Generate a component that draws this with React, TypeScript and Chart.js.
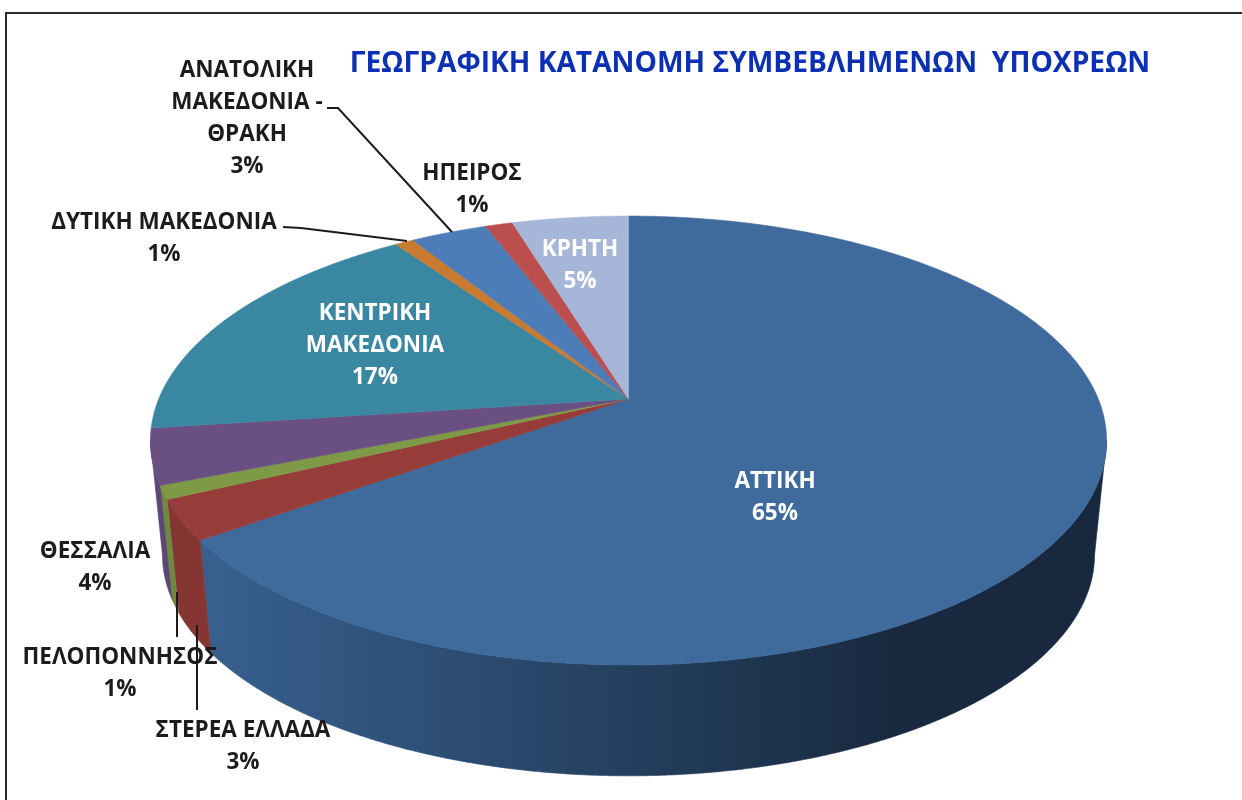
import React, { useEffect, useRef } from "react";
import { Chart, registerables } from "chart.js";

Chart.register(...registerables);

const titleText = "ΓΕΩΓΡΑΦΙΚΗ ΚΑΤΑΝΟΜΗ ΣΥΜΒΕΒΛΗΜΕΝΩΝ  ΥΠΟΧΡΕΩΝ";
const categories = [
  "ΑΤΤΙΚΗ",
  "ΣΤΕΡΕΑ ΕΛΛΑΔΑ",
  "ΠΕΛΟΠΟΝΝΗΣΟΣ",
  "ΘΕΣΣΑΛΙΑ",
  "ΚΕΝΤΡΙΚΗ ΜΑΚΕΔΟΝΙΑ",
  "ΔΥΤΙΚΗ ΜΑΚΕΔΟΝΙΑ",
  "ΑΝΑΤΟΛΙΚΗ ΜΑΚΕΔΟΝΙΑ - ΘΡΑΚΗ",
  "ΗΠΕΙΡΟΣ",
  "ΚΡΗΤΗ",
];
const shares = [65.1, 2.86, 0.95, 3.97, 17.43, 0.75, 3.1, 1.1, 4.7];
const topColors = ["#3e6a9c", "#963d3a", "#7e9a47", "#6a5082", "#3a87a1", "#c87a30", "#4c7db8", "#bb4f4d", "#a6b6d8"];
const wallColors = ["#2c4b70", "#853633", "#6f8a3e", "#5c4675", "#2f6f85", "#a8652a", "#3f689a", "#9c4240", "#8a98b4"];
const labelLines = [
  ["ΑΤΤΙΚΗ"],
  ["ΣΤΕΡΕΑ ΕΛΛΑΔΑ"],
  ["ΠΕΛΟΠΟΝΝΗΣΟΣ"],
  ["ΘΕΣΣΑΛΙΑ"],
  ["ΚΕΝΤΡΙΚΗ", "ΜΑΚΕΔΟΝΙΑ"],
  ["ΔΥΤΙΚΗ ΜΑΚΕΔΟΝΙΑ"],
  ["ΑΝΑΤΟΛΙΚΗ", "ΜΑΚΕΔΟΝΙΑ -", "ΘΡΑΚΗ"],
  ["ΗΠΕΙΡΟΣ"],
  ["ΚΡΗΤΗ"],
];
const labelAnchors = [
  [775, 481.5],
  [243, 730.5],
  [120, 657.5],
  [95, 551.5],
  [375, 313.5],
  [164, 222.5],
  [247, 70.5],
  [472, 173.5],
  [580, 249.5],
];
const labelColors = ["#ffffff", "#1c1c1c", "#1c1c1c", "#1c1c1c", "#ffffff", "#1c1c1c", "#1c1c1c", "#1c1c1c", "#ffffff"];
const leaderLines = [
  [[177, 592], [177, 637]],
  [[197, 625], [197, 710]],
  [[283, 227], [301, 228], [407, 241]],
  [[327, 108], [338, 108], [452, 232]],
];

const CX = 628.5;
const K = -0.185;
const TOP = { a: 469.8, b: 216.8, y0: 399 };
const BOTTOM = { a: 458, b: 213.4, y0: 514 };
const FRONT_START = Math.acos(K);
const FRONT_END = Math.PI * 2 - FRONT_START;
const LINE_HEIGHT = 32;
const FONT = '700 22.5px "Open Sans", sans-serif';

function project(theta: number, f: { a: number; b: number; y0: number }) {
  const u = Math.sin(theta);
  const v = -Math.cos(theta);
  const w = 1 + K * v;
  return [CX + (f.a * u) / w, f.y0 + (f.b * v) / w];
}

function rim(from: number, to: number, f: { a: number; b: number; y0: number }) {
  const steps = Math.max(2, Math.ceil(Math.abs(to - from) / 0.004));
  const pts: number[][] = [];
  for (let i = 0; i <= steps; i++) pts.push(project(from + ((to - from) * i) / steps, f));
  return pts;
}

function fillPoly(ctx: CanvasRenderingContext2D, pts: number[][], color: any) {
  ctx.beginPath();
  pts.forEach((p, i) => (i ? ctx.lineTo(p[0], p[1]) : ctx.moveTo(p[0], p[1])));
  ctx.closePath();
  ctx.fillStyle = color;
  ctx.strokeStyle = color;
  ctx.lineWidth = 0.6;
  ctx.fill();
  ctx.stroke();
}

const pie3d = {
  id: "pie3d",
  beforeDatasetDraw(chart: any) {
    const ctx: CanvasRenderingContext2D = chart.ctx;
    const arcs = chart.getDatasetMeta(0).data;
    const angles = arcs.map((a: any) => [a.startAngle + Math.PI / 2, a.endAngle + Math.PI / 2]);

    ctx.save();
    // Frame
    ctx.strokeStyle = "#2a2a2a";
    ctx.lineWidth = 2;
    ctx.beginPath();
    ctx.moveTo(6, 800);
    ctx.lineTo(6, 13);
    ctx.lineTo(1242, 13);
    ctx.stroke();

    // Outer walls
    angles.forEach(([s, e]: number[], i: number) => {
      const from = Math.max(s, FRONT_START);
      const to = Math.min(e, FRONT_END);
      if (to <= from) return;
      const pts = [...rim(from, to, TOP), ...rim(to, from, BOTTOM)];
      let color: any = wallColors[i];
      if (i === 0) {
        const g = ctx.createLinearGradient(205, 0, 900, 0);
        g.addColorStop(0, "#38608f");
        g.addColorStop(0.35, "#2d4d73");
        g.addColorStop(0.6, "#24405f");
        g.addColorStop(1, "#18293f");
        color = g;
      }
      fillPoly(ctx, pts, color);
    });

    // Top face
    angles.forEach(([s, e]: number[], i: number) => {
      fillPoly(ctx, [[CX, TOP.y0], ...rim(s, e, TOP)], topColors[i]);
    });

    // Leader lines
    ctx.strokeStyle = "#1c1c1c";
    ctx.lineWidth = 2;
    leaderLines.forEach((line) => {
      ctx.beginPath();
      line.forEach((p, i) => (i ? ctx.lineTo(p[0], p[1]) : ctx.moveTo(p[0], p[1])));
      ctx.stroke();
    });

    // Title
    ctx.textAlign = "center";
    ctx.textBaseline = "middle";
    ctx.fillStyle = "#0b30b4";
    ctx.font = '700 28.2px "Open Sans", sans-serif';
    ctx.fillText(titleText, 750, 64);

    // Data labels
    ctx.font = FONT;
    const total = shares.reduce((a, b) => a + b, 0);
    shares.forEach((v, i) => {
      const [x, y] = labelAnchors[i];
      const lines = [...labelLines[i], Math.round((v / total) * 100) + "%"];
      ctx.fillStyle = labelColors[i];
      lines.forEach((t, j) => ctx.fillText(t, x, y + j * LINE_HEIGHT));
    });
    ctx.restore();
    return false;
  },
};

export default function App() {
  const ref = useRef<HTMLCanvasElement>(null);
  useEffect(() => {
    const chart = new Chart(ref.current!, {
      type: "pie",
      data: {
        labels: categories,
        datasets: [{ data: shares, backgroundColor: topColors, borderWidth: 0 }],
      },
      options: {
        responsive: false,
        animation: false,
        plugins: { legend: { display: false }, tooltip: { enabled: false }, title: { display: false } },
      },
      plugins: [pie3d],
    } as any);
    return () => chart.destroy();
  }, []);
  return (
    <div style={{ position: "fixed", left: 0, top: 0, width: 1242, height: 800, background: "#fff", overflow: "hidden" }}>
      <canvas ref={ref} width={1242} height={800} style={{ display: "block", filter: "blur(0.5px)" }} />
    </div>
  );
}
